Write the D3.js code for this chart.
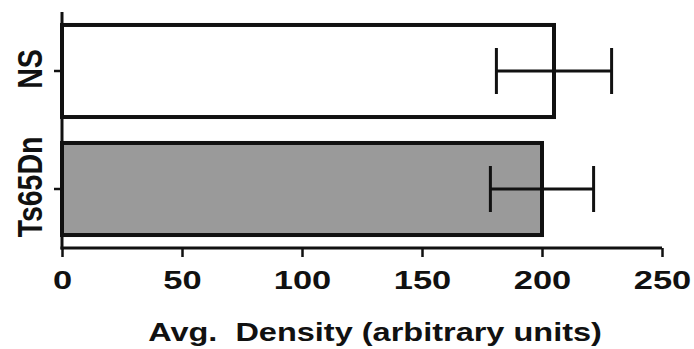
<!DOCTYPE html>
<html>
<head>
<meta charset="utf-8">
<script src="https://cdn.jsdelivr.net/npm/d3@7"></script>
<style>
  body { margin: 0; background: #fff; }
  text { font-family: "Liberation Sans", Arial, sans-serif; font-weight: bold; fill: #111; white-space: pre; }
</style>
</head>
<body>
<div id="chart"></div>
<script>
// data
var groups = ["NS", "Ts65Dn"];
var means  = [205, 200];
var errs   = [24, 21.5];
var fills  = ["#ffffff", "#9a9a9a"];
var xTicks = [0, 50, 100, 150, 200, 250];
var xTitle = "Avg.  Density (arbitrary units)";

var width = 694, height = 349;
var margin = {top: 12, right: 32, bottom: 101, left: 62};
var stretch = 1.3; // glyphs in the figure are stretched horizontally

var svg = d3.select("#chart").append("svg")
    .attr("width", width)
    .attr("height", height);

var x = d3.scaleLinear()
    .domain([0, 250])
    .range([margin.left, width - margin.right]);

var y = d3.scaleBand()
    .domain(groups)
    .range([margin.top, height - margin.bottom])
    .paddingInner(0.22)
    .paddingOuter(0.11);

var rows = groups.map((g, i) => ({g: g, m: means[i], e: errs[i], f: fills[i]}));

// bars
svg.selectAll(".bar")
    .data(rows)
  .enter().append("rect")
    .attr("class", "bar")
    .attr("x", x(0))
    .attr("y", d => y(d.g))
    .attr("width", d => x(d.m) - x(0))
    .attr("height", y.bandwidth())
    .attr("fill", d => d.f)
    .attr("stroke", "#111")
    .attr("stroke-width", 4);

// error bars
var capH = y.bandwidth() * 0.5;
var eb = svg.selectAll(".err")
    .data(rows)
  .enter().append("g")
    .attr("class", "err")
    .attr("stroke", "#111")
    .attr("stroke-width", 3);
eb.append("line")
    .attr("x1", d => x(d.m - d.e)).attr("x2", d => x(d.m + d.e))
    .attr("y1", d => y(d.g) + y.bandwidth() / 2)
    .attr("y2", d => y(d.g) + y.bandwidth() / 2);
eb.append("line")
    .attr("x1", d => x(d.m - d.e)).attr("x2", d => x(d.m - d.e))
    .attr("y1", d => y(d.g) + y.bandwidth() / 2 - capH / 2)
    .attr("y2", d => y(d.g) + y.bandwidth() / 2 + capH / 2);
eb.append("line")
    .attr("x1", d => x(d.m + d.e)).attr("x2", d => x(d.m + d.e))
    .attr("y1", d => y(d.g) + y.bandwidth() / 2 - capH / 2)
    .attr("y2", d => y(d.g) + y.bandwidth() / 2 + capH / 2);

// x axis
var xAxis = svg.append("g")
    .attr("transform", "translate(0," + (height - margin.bottom) + ")")
    .call(d3.axisBottom(x).tickValues(xTicks).tickSize(9).tickSizeOuter(0));
xAxis.select(".domain").attr("stroke", "#111").attr("stroke-width", 3)
    .attr("d", "M" + (x(0) - 1.5) + ",0H" + x(250));
xAxis.selectAll(".tick line").attr("stroke", "#111").attr("stroke-width", 2.5);
xAxis.selectAll(".tick text")
    .attr("font-size", 26.5)
    .attr("fill", "#111")
    .attr("y", null).attr("dy", null)
    .attr("transform", "translate(0,41) scale(" + stretch + ",1)");

// y axis
var yAxis = svg.append("g")
    .attr("transform", "translate(" + margin.left + ",0)")
    .call(d3.axisLeft(y).tickSize(8).tickSizeOuter(0).tickFormat(""));
yAxis.select(".domain").attr("stroke", "#111").attr("stroke-width", 3)
    .attr("d", "M0," + margin.top + "V" + (height - margin.bottom + 1.5));
yAxis.selectAll(".tick line").attr("stroke", "#111").attr("stroke-width", 2.5);

svg.selectAll(".ylab")
    .data(groups)
  .enter().append("text")
    .attr("class", "ylab")
    .attr("text-anchor", "middle")
    .attr("font-size", 28.5)
    .attr("transform", d => "translate(42," + (y(d) + y.bandwidth() / 2 - 2) + ") scale(1.22,1) rotate(-90)")
    .text(d => d);

// x title
svg.append("text")
    .attr("text-anchor", "middle")
    .attr("font-size", 25)
    .attr("transform", "translate(" + 375 + "," + 341 + ") scale(" + stretch + ",1)")
    .text(xTitle);
</script>
</body>
</html>
